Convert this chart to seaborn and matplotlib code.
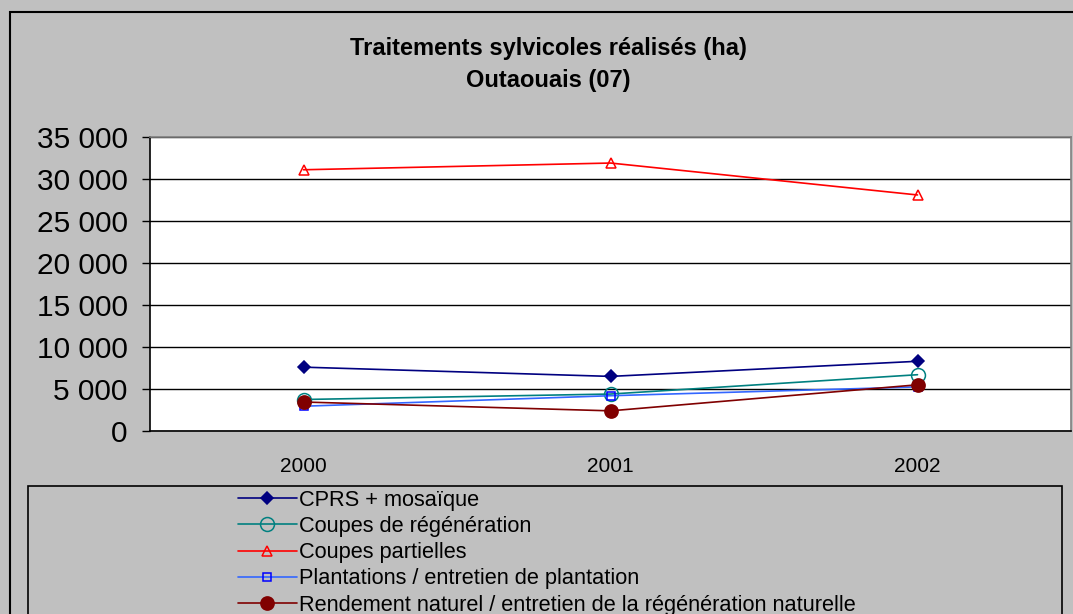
import numpy as np
import pandas as pd
import matplotlib as mpl
mpl.use("Agg")
import matplotlib.pyplot as plt
import seaborn as sns

# Data
annees = ["2000", "2001", "2002"]
cprs = [7600, 6500, 8300]
coupes_regen = [3750, 4400, 6700]
coupes_partielles = [31100, 31900, 28100]
plantations = [2950, 4200, 5250]
rendement = [3450, 2400, 5500]

noms = ["CPRS + mosaïque",
        "Coupes de régénération",
        "Coupes partielles",
        "Plantations / entretien de plantation",
        "Rendement naturel / entretien de la régénération naturelle"]
series = [cprs, coupes_regen, coupes_partielles, plantations, rendement]

df = pd.DataFrame({
    "Annee": annees * len(noms),
    "Serie": np.repeat(noms, len(annees)),
    "Valeur": np.concatenate(series),
})
df["x"] = df["Annee"].map({a: i for i, a in enumerate(annees)})

sns.set_style("white")
plt.rcParams["font.family"] = ["Liberation Sans", "DejaVu Sans"]
for k in ["text.color", "xtick.color", "ytick.color", "axes.labelcolor"]:
    plt.rcParams[k] = "black"

gris = "#C0C0C0"
fig = plt.figure(figsize=(10.73, 6.14), dpi=100, facecolor=gris)
ax = fig.add_axes([150 / 1073, 1 - 431 / 614, 921 / 1073, 294 / 614])
ax.set_facecolor("white")

# Styles per series
styles = {
    noms[0]: dict(color="#000080", marker="D", ms=6.5, mfc="#000080", mec="#000080"),
    noms[1]: dict(color="#008080", marker="o", ms=10, mfc="none", mec="#008080"),
    noms[2]: dict(color="#FF0000", marker="^", ms=6.5, mfc="none", mec="#FF0000"),
    noms[3]: dict(color="#3366FF", marker="s", ms=6, mfc="none", mec="#0000FF"),
    noms[4]: dict(color="#800000", marker="o", ms=9.5, mfc="#800000", mec="#800000"),
}

for nom in noms:
    st = styles[nom]
    sub = df[df["Serie"] == nom]
    sns.lineplot(data=sub, x="x", y="Valeur", ax=ax, label=nom,
                 color=st["color"], marker=st["marker"], markersize=st["ms"],
                 markerfacecolor=st["mfc"], markeredgecolor=st["mec"],
                 markeredgewidth=1.1, linewidth=1.2, zorder=3)

ax.set_xlim(-0.5, 2.5)
ax.set_ylim(0, 35000)
ax.set_yticks(np.arange(0, 35001, 5000))
ax.set_yticklabels([f"{v:,}".replace(",", " ") for v in range(0, 35001, 5000)],
                   fontsize=21.5)
ax.yaxis.grid(True, color="black", linewidth=1)
ax.set_axisbelow(True)

ax.set_xticks(range(len(annees)))
ax.set_xticklabels(annees, fontsize=15)
ax.set_xticks([-0.5, 0.5, 1.5, 2.5], minor=True)
ax.tick_params(axis="x", which="major", length=0, pad=19)
ax.tick_params(axis="x", which="minor", length=6, direction="out", color="black", width=1)
ax.tick_params(axis="y", length=6, direction="out", color="black", width=1, pad=10, left=True)
ax.set_xlabel("")
ax.set_ylabel("")

for s in ["left", "bottom"]:
    ax.spines[s].set_color("black")
    ax.spines[s].set_linewidth(1.2)
for s in ["top", "right"]:
    ax.spines[s].set_color("#808080")
    ax.spines[s].set_linewidth(1.2)

# Title
fig.text(548 / 1073, 1 - 48 / 614, "Traitements sylvicoles réalisés (ha)",
         ha="center", va="center", fontsize=17, fontweight="bold")
fig.text(548 / 1073, 1 - 81 / 614, "Outaouais (07)",
         ha="center", va="center", fontsize=17, fontweight="bold")

# Outer chart border
fig.add_artist(plt.Rectangle((10 / 1073, -0.1), 1.2, 1 - 12 / 614 + 0.1,
                             transform=fig.transFigure, fill=False,
                             edgecolor="black", linewidth=1.5))

# Legend box
legbox = plt.Rectangle((28 / 1073, -0.1), 1034 / 1073, 1 - 486 / 614 + 0.1,
                       transform=fig.transFigure, facecolor=gris,
                       edgecolor="black", linewidth=1.2)
fig.add_artist(legbox)
ax.get_legend().remove()
handles, labels = ax.get_legend_handles_labels()
leg = fig.legend(handles, labels, loc="upper left",
                 bbox_to_anchor=(229 / 1073, 1 - 481 / 614),
                 frameon=False, fontsize=15.7, handlelength=2.7,
                 handletextpad=0.1, labelspacing=0.24, borderaxespad=0)

fig.savefig("out.png", dpi=100, facecolor=gris)
